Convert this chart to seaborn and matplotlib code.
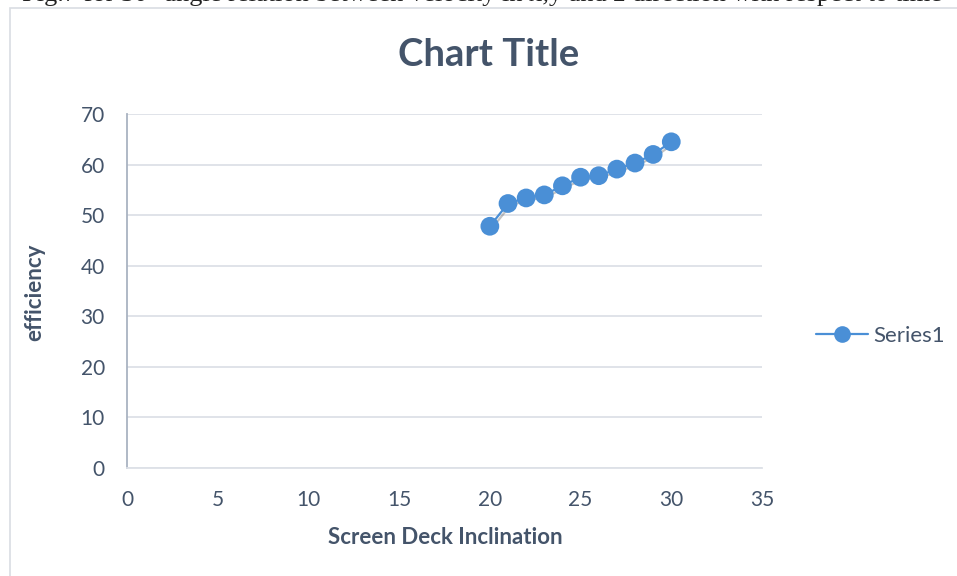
import matplotlib
matplotlib.use("Agg")
import matplotlib.pyplot as plt
import seaborn as sns
import pandas as pd
from matplotlib.patches import Rectangle
from matplotlib.lines import Line2D
import matplotlib.patheffects as pe

# ---- data ----
inclination = [20, 21, 22, 23, 24, 25, 26, 27, 28, 29, 30]
efficiency = [47.8, 52.3, 53.4, 54.0, 55.8, 57.5, 57.8, 59.1, 60.3, 62.0, 64.5]
series_name = "Series1"
x_ticks = [0, 5, 10, 15, 20, 25, 30, 35]
y_ticks = [0, 10, 20, 30, 40, 50, 60, 70]
title = "Chart Title"
x_label = "Screen Deck Inclination"
y_label = "efficiency"
caption = "Fig.7 for 30° angle relation between velocity in x,y and z direction with respect to time"

df = pd.DataFrame({"x": inclination, "y": efficiency, "series": series_name})

sns.set_theme(style="white")
plt.rcParams["font.family"] = ["Lato", "DejaVu Sans"]

TXT = "#44546A"
GRID = "#DDE1E7"
LINE = "#4A8FD6"

fig = plt.figure(figsize=(9.57, 5.76), dpi=100)
W, H = 957, 576

# outer chart frame (cut off at right/bottom)
fig.patches.append(Rectangle((10 / W, -0.1), 1.2, (576 - 8) / H + 0.1,
                             transform=fig.transFigure, fill=False,
                             edgecolor="#D9DDE3", linewidth=1.2))

# caption of the page, cut off at the top as in the source
fig.text(22 / W, 1 + 5 / H, caption, family="Liberation Serif", fontsize=19,
         color="#222222", ha="left", va="center")

ax = fig.add_axes([127 / W, 1 - 468 / H, (762 - 127) / W, (468 - 114) / H])

sns.lineplot(data=df, x="x", y="y", hue="series", palette=[LINE], marker="o",
             markersize=13.5, linewidth=1.6, markeredgewidth=0, ax=ax,
             legend=False)
for ln in ax.lines:
    ln.set_path_effects([pe.SimpleLineShadow(offset=(1.5, -1.5), shadow_color="#555555", alpha=0.35),
                         pe.Normal()])

ax.set_xlim(0, 35)
ax.set_ylim(0, 70)
ax.set_xticks(x_ticks)
ax.set_yticks(y_ticks)
ax.tick_params(axis="both", length=0, labelsize=15, labelcolor=TXT)
ax.tick_params(axis="x", pad=16)
ax.tick_params(axis="y", pad=16)
ax.grid(axis="y", color=GRID, linewidth=1.3)
ax.grid(axis="x", visible=False)
ax.set_axisbelow(True)
for s in ["top", "right"]:
    ax.spines[s].set_visible(False)
ax.spines["left"].set_color("#A9B3C1")
ax.spines["left"].set_linewidth(1.3)
ax.spines["bottom"].set_color(GRID)
ax.spines["bottom"].set_linewidth(1.3)

ax.set_xlabel("")
ax.set_ylabel("")
fig.text(445 / W, 1 - 537 / H, x_label, fontsize=16, fontweight="bold",
         color=TXT, ha="center", va="center")
fig.text(35 / W, 1 - 292 / H, y_label, fontsize=16, fontweight="bold",
         color=TXT, ha="center", va="center", rotation=90)
fig.text(489 / W, 1 - 55 / H, title, fontsize=27.5, fontweight="bold",
         color=TXT, ha="center", va="center")

# legend
h = Line2D([], [], color=LINE, marker="o", markersize=12, linewidth=1.6,
           markeredgewidth=0)
leg = fig.legend([h], [series_name], loc="center left",
                 bbox_to_anchor=(816 / W, 1 - 336 / H), frameon=False,
                 fontsize=16, handlelength=2.35, handletextpad=0.25,
                 borderpad=0, borderaxespad=0, labelcolor=TXT)

fig.savefig("out.png", dpi=100)
